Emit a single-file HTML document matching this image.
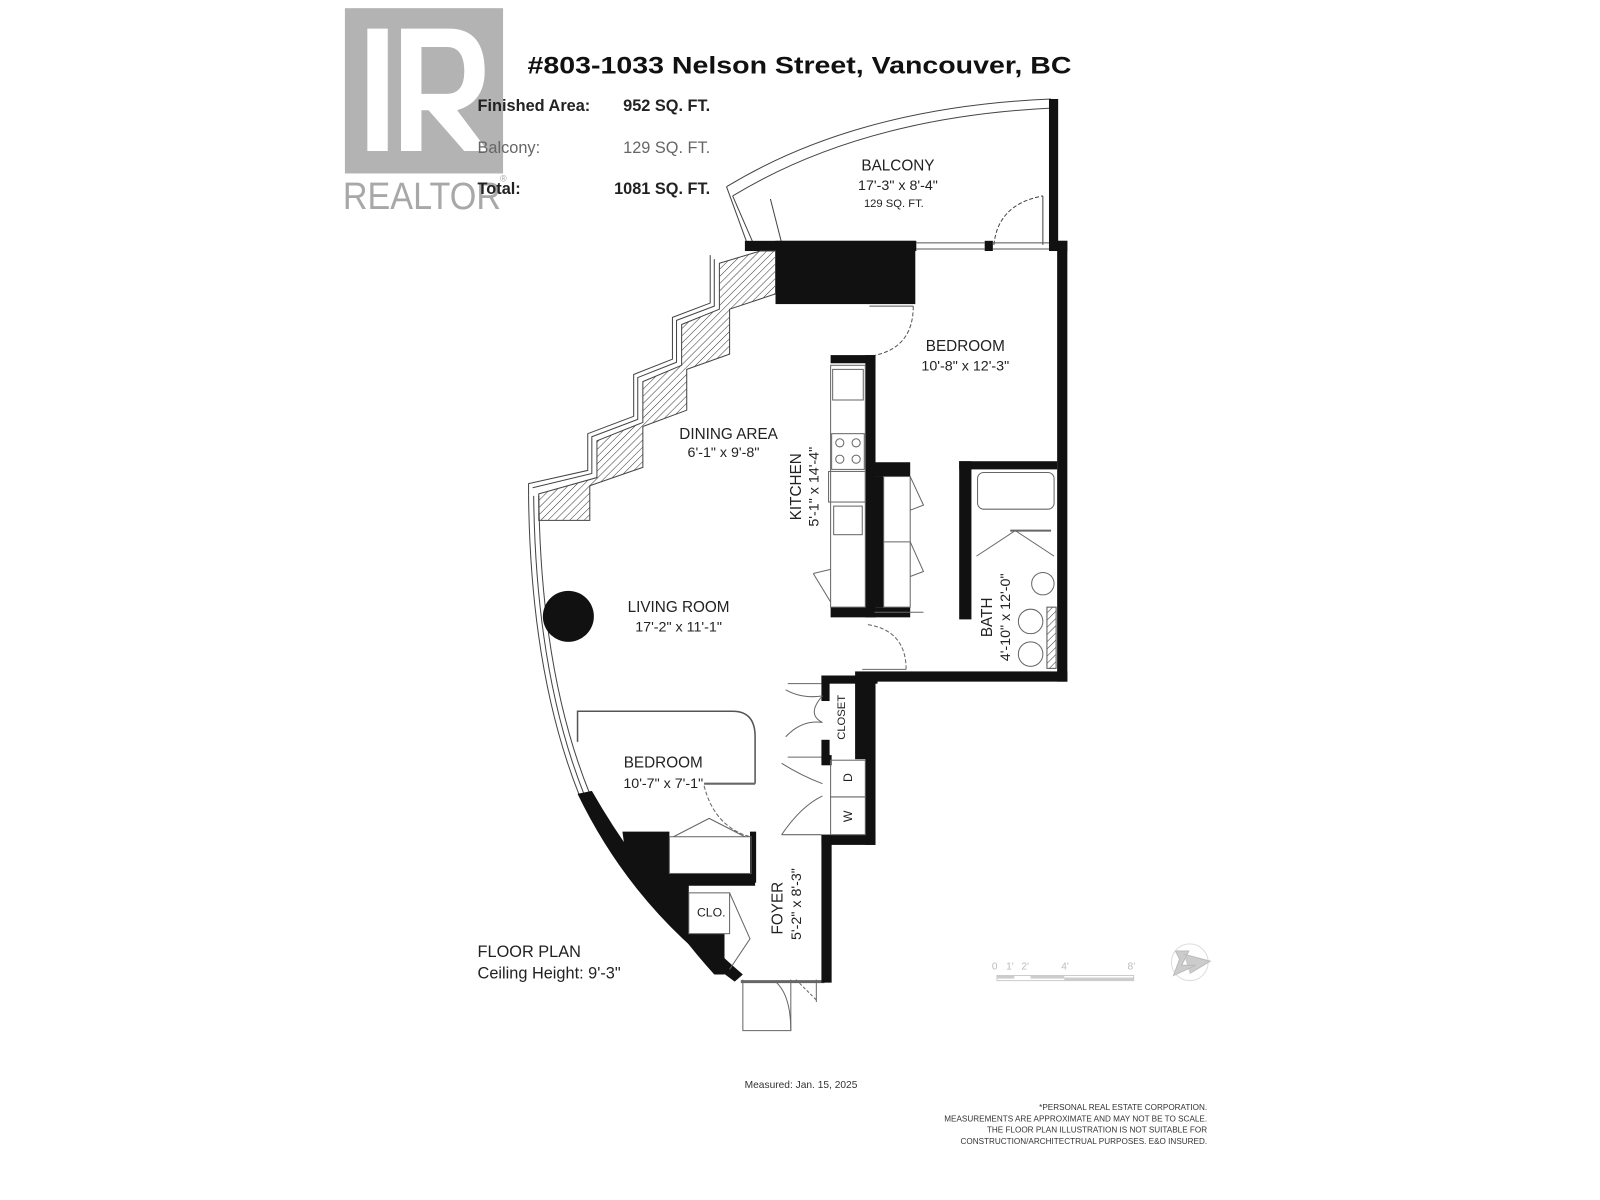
<!DOCTYPE html>
<html><head><meta charset="utf-8"><style>
html,body{margin:0;padding:0;background:#fff;}
svg{display:block;}
text{font-family:"Liberation Sans",sans-serif;}
</style></head><body>
<svg width="1600" height="1200" viewBox="0 0 1568 1176" preserveAspectRatio="none" xmlns="http://www.w3.org/2000/svg">
<defs>
<pattern id="h" width="5" height="5" patternUnits="userSpaceOnUse" patternTransform="rotate(45)">
<line x1="0" y1="0" x2="0" y2="5" stroke="#333" stroke-width="1"/></pattern>
</defs>
<!-- Realtor logo -->
<rect x="338" y="8" width="155" height="162" fill="#b3b3b3"/>
<path d="M360 28 H380 V148 H360 Z" fill="#fff"/>
<path d="M393 28 H440 Q475 28 475 70 Q475 100 448 108 L478 148 H455 L420 108 H413 V148 H393 Z M413 46 V92 H438 Q455 92 455 70 Q455 46 438 46 Z" fill="#fff"/>
<text x="336" y="205" font-size="37" fill="#a8a8a8" textLength="155" lengthAdjust="spacingAndGlyphs">REALTOR</text>
<text x="490" y="178" font-size="9" fill="#a8a8a8">®</text>
<!-- Title and areas -->
<text x="517" y="72" font-size="24" font-weight="bold" fill="#111" textLength="533" lengthAdjust="spacingAndGlyphs">#803-1033 Nelson Street, Vancouver, BC</text>
<text x="468" y="109" font-size="16" font-weight="bold" fill="#222">Finished Area:</text>
<text x="696" y="109" font-size="16" font-weight="bold" fill="#222" text-anchor="end">952 SQ. FT.</text>
<text x="468" y="150" font-size="16" fill="#666">Balcony:</text>
<text x="696" y="150" font-size="16" fill="#666" text-anchor="end">129 SQ. FT.</text>
<text x="468" y="190" font-size="16" font-weight="bold" fill="#222">Total:</text>
<text x="696" y="190" font-size="16" font-weight="bold" fill="#222" text-anchor="end">1081 SQ. FT.</text>

<!-- Balcony -->
<g fill="none" stroke="#444" stroke-width="1">
<path d="M712 183 Q840 105 1030 97"/>
<path d="M718 192 Q845 115 1030 106"/>
<path d="M712 183 L732 238"/>
<path d="M718 192 L738 238"/>
<path d="M755 195 L766 238"/>
<path d="M974 240 Q978 200 1022 192" stroke-dasharray="4 2"/>
<line x1="1022" y1="192" x2="1022" y2="240"/>
</g>
<rect x="1028" y="97" width="9" height="145" fill="#111"/>
<!-- top wall -->
<rect x="730" y="236" width="168" height="10" fill="#111"/>
<rect x="760" y="236" width="137" height="62" fill="#111"/>
<rect x="965" y="236" width="8" height="10" fill="#111"/>
<rect x="1028" y="236" width="18" height="10" fill="#111"/>
<g stroke="#555" stroke-width="1"><line x1="898" y1="238" x2="965" y2="238"/><line x1="898" y1="244" x2="965" y2="244"/><line x1="973" y1="238" x2="1028" y2="238"/><line x1="973" y1="244" x2="1028" y2="244"/></g>
<!-- right walls -->
<rect x="1036" y="236" width="10" height="432" fill="#111"/>
<rect x="838" y="658" width="208" height="10" fill="#111"/>
<!-- bedroom door -->
<line x1="852" y1="300" x2="895" y2="300" stroke="#555"/>
<path d="M895 300 Q895 340 858 348" fill="none" stroke="#555" stroke-dasharray="4 2"/>
<!-- kitchen wall -->
<rect x="814" y="348" width="44" height="8" fill="#111"/>
<rect x="848" y="348" width="10" height="257" fill="#111"/>
<rect x="858" y="453" width="34" height="14" fill="#111"/>
<rect x="814" y="595" width="78" height="10" fill="#111"/>
<rect x="858" y="467" width="8" height="128" fill="#111"/>
<g fill="none" stroke="#666" stroke-width="1">
<rect x="866" y="467" width="26" height="128"/>
<line x1="866" y1="531" x2="892" y2="531"/>
<path d="M892 467 L905 495 L892 500 M892 531 L905 560 L892 565"/>
<rect x="814" y="358" width="34" height="237"/>
<rect x="816" y="362" width="30" height="30"/>
<rect x="815" y="425" width="32" height="35"/>
<rect x="812" y="462" width="36" height="30"/>
<rect x="817" y="496" width="28" height="28"/>
<circle cx="823" cy="434" r="4"/><circle cx="839" cy="434" r="4"/><circle cx="823" cy="450" r="4"/><circle cx="839" cy="450" r="4"/>
<path d="M797 562 L814 558 M797 562 L814 590"/>
<line x1="857" y1="600" x2="905" y2="600"/>
<path d="M888 656 Q888 618 850 612" stroke-dasharray="4 2"/>
<line x1="845" y1="656" x2="888" y2="656"/>
</g>
<!-- bath -->
<rect x="940" y="452" width="96" height="8" fill="#111"/>
<rect x="940" y="452" width="12" height="155" fill="#111"/>
<g fill="none" stroke="#666" stroke-width="1">
<rect x="958" y="463" width="75" height="36" rx="6"/>
<line x1="990" y1="520" x2="1030" y2="520" stroke-width="2"/>
<path d="M957 545 L995 520 L1033 545"/>
<circle cx="1022" cy="572" r="11"/>
<circle cx="1010" cy="609" r="12"/><circle cx="1010" cy="641" r="12"/>
</g>
<rect x="1026" y="595" width="9" height="60" fill="url(#h)" stroke="#555"/>
<!-- hatched zigzag wall -->
<path d="M705 258 L745 246 L760 246 L760 288 L715 303 L715 347 L673 362 L673 402 L630 418 L630 458 L578 476 L578 510 L528 510 L528 484 L585 468 L585 432 L630 414 L630 374 L668 358 L668 318 L705 303 Z" fill="url(#h)" stroke="#444"/>
<path d="M700 254 L700 300 L663 314 L663 355 L625 370 L625 411 L580 428 L580 464 L522 478" fill="none" stroke="#444"/>
<path d="M696 250 L696 297 L659 311 L659 352 L621 367 L621 408 L576 425 L576 461 L518 474 L518 486" fill="none" stroke="#444"/>
<!-- left curved wall -->
<path d="M518 486 Q520 660 568 780" fill="none" stroke="#444"/>
<path d="M523 486 Q525 660 573 780" fill="none" stroke="#444"/>
<path d="M528 486 Q530 660 578 778" fill="none" stroke="#444"/>
<path d="M566 778 Q620 890 720 962 L728 955 Q640 880 580 775 Z" fill="#111"/>
<!-- column -->
<circle cx="557" cy="604" r="25" fill="#111"/>
<!-- bedroom 2 -->
<path d="M566 727 L566 697 L718 697 Q740 697 740 722 L740 768" fill="none" stroke="#555" stroke-width="1.5"/>
<line x1="690" y1="768" x2="740" y2="768" stroke="#666" stroke-width="2"/>
<path d="M690 770 Q700 810 735 820" fill="none" stroke="#666" stroke-dasharray="4 2"/>
<!-- black blocks lower -->
<path d="M610 815 L656 815 L656 856 L740 856 L740 868 L675 868 L675 875 L715 875 L715 915 L710 915 L710 955 L700 955 Q650 900 612 830 Z" fill="#111"/>
<rect x="735" y="815" width="6" height="50" fill="#111"/>
<g fill="none" stroke="#666" stroke-width="1">
<rect x="656" y="820" width="80" height="36"/>
<path d="M660 820 L695 802 L730 820"/>
<rect x="675" y="875" width="40" height="40" fill="#fff"/>
<path d="M715 875 L735 920 L715 950"/>
<!-- entry door -->
<path d="M728 960 L728 1010 L775 1010 Q775 975 760 962" />
<line x1="775" y1="1010" x2="775" y2="960"/>
<path d="M780 960 Q790 970 800 980" stroke-dasharray="3 2"/>
<line x1="800" y1="960" x2="800" y2="982"/>
</g>
<line x1="726" y1="962" x2="808" y2="962" stroke="#666" stroke-width="3"/>
<!-- foyer / closet walls -->
<rect x="805" y="662" width="55" height="8" fill="#111"/>
<rect x="805" y="662" width="8" height="25" fill="#111"/>
<rect x="805" y="725" width="8" height="20" fill="#111"/>
<rect x="838" y="662" width="20" height="82" fill="#111"/>
<rect x="848" y="662" width="10" height="166" fill="#111"/>
<rect x="805" y="818" width="53" height="10" fill="#111"/>
<rect x="805" y="818" width="10" height="145" fill="#111"/>
<rect x="805" y="740" width="10" height="10" fill="#111"/>
<g fill="none" stroke="#666" stroke-width="1">
<rect x="814" y="745" width="34" height="36"/>
<rect x="814" y="781" width="34" height="37"/>
<path d="M770 676 Q786 685 806 682 M770 722 Q786 705 806 708 M806 682 Q790 700 806 708"/>
<path d="M766 748 Q785 760 806 768 M766 818 Q785 790 806 780"/>
<line x1="772" y1="670" x2="805" y2="670"/><line x1="772" y1="742" x2="805" y2="742"/><line x1="766" y1="818" x2="805" y2="818"/>
</g>
<!-- labels -->
<g fill="#222" font-size="15" text-anchor="middle">
<text x="880" y="167">BALCONY</text>
<text x="880" y="186" font-size="14">17'-3" x 8'-4"</text>
<text x="876" y="203" font-size="11">129 SQ. FT.</text>
<text x="946" y="344">BEDROOM</text>
<text x="946" y="363" font-size="14">10'-8" x 12'-3"</text>
<text x="714" y="430">DINING AREA</text>
<text x="709" y="448" font-size="14">6'-1" x 9'-8"</text>
<text x="665" y="600">LIVING ROOM</text>
<text x="665" y="619" font-size="14">17'-2" x 11'-1"</text>
<text x="650" y="752">BEDROOM</text>
<text x="650" y="772" font-size="14">10'-7" x 7'-1"</text>
<text x="697" y="898" font-size="12">CLO.</text>
<text transform="translate(785,477) rotate(-90)">KITCHEN</text>
<text transform="translate(802,477) rotate(-90)" font-size="14">5'-1" x 14'-4"</text>
<text transform="translate(972,605) rotate(-90)">BATH</text>
<text transform="translate(990,605) rotate(-90)" font-size="14">4'-10" x 12'-0"</text>
<text transform="translate(828,703) rotate(-90)" font-size="11">CLOSET</text>
<text transform="translate(835,762) rotate(-90)" font-size="12">D</text>
<text transform="translate(835,800) rotate(-90)" font-size="12">W</text>
<text transform="translate(767,890) rotate(-90)">FOYER</text>
<text transform="translate(785,886) rotate(-90)" font-size="14">5'-2" x 8'-3"</text>
</g>
<text x="468" y="938" font-size="16" fill="#222">FLOOR PLAN</text>
<text x="468" y="959" font-size="16" fill="#222">Ceiling Height: 9'-3"</text>
<!-- scale -->
<g fill="#bbb" font-size="10">
<text x="972" y="950">0</text><text x="986" y="950">1'</text><text x="1001" y="950">2'</text><text x="1040" y="950">4'</text><text x="1105" y="950">8'</text>
</g>
<rect x="977" y="956" width="134" height="5" fill="none" stroke="#ccc"/>
<rect x="977" y="956" width="17" height="3" fill="#ccc"/><rect x="1010" y="956" width="33" height="3" fill="#ccc"/><rect x="1043" y="958" width="68" height="3" fill="#ccc"/>
<circle cx="1166" cy="943" r="18" fill="none" stroke="#ddd"/>
<path d="M1152 932 L1165 932 L1158 946 L1172 946 L1150 956 L1156 940 Z M1160 935 L1186 942 L1166 954" fill="#ccc" stroke="#bbb"/>
<text x="785" y="1066" font-size="10" fill="#333" text-anchor="middle">Measured: Jan. 15, 2025</text>
<g font-size="8" fill="#333" text-anchor="end">
<text x="1183" y="1088">*PERSONAL REAL ESTATE CORPORATION.</text>
<text x="1183" y="1099">MEASUREMENTS ARE APPROXIMATE AND MAY NOT BE TO SCALE.</text>
<text x="1183" y="1110">THE FLOOR PLAN ILLUSTRATION IS NOT SUITABLE FOR</text>
<text x="1183" y="1121">CONSTRUCTION/ARCHITECTRUAL PURPOSES. E&amp;O INSURED.</text>
</g>
</svg>
</body></html>
